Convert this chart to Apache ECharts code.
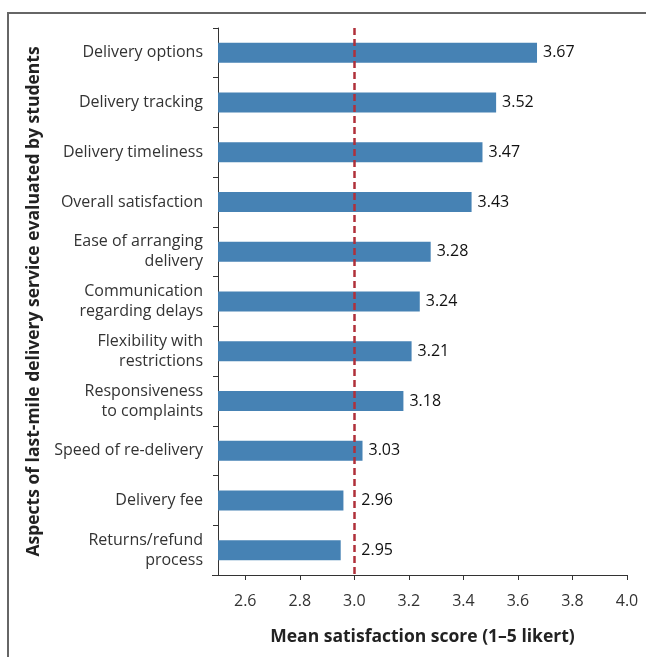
<!DOCTYPE html>
<html>
<head>
<meta charset="utf-8">
<script src="https://cdn.jsdelivr.net/npm/echarts@6/dist/echarts.min.js"></script>
<style>
  html, body { margin: 0; padding: 0; background: #fff; }
  #chart { width: 646px; height: 657px; }
</style>
</head>
<body>
<div id="chart"></div>
<script>
// Aspects of last-mile delivery, listed top to bottom
const aspects = [
  'Delivery options',
  'Delivery tracking',
  'Delivery timeliness',
  'Overall satisfaction',
  'Ease of arranging\ndelivery',
  'Communication\nregarding delays',
  'Flexibility with\nrestrictions',
  'Responsiveness\nto complaints',
  'Speed of re-delivery',
  'Delivery fee',
  'Returns/refund\nprocess'
];
// Mean satisfaction score per aspect
const meanScores = [3.67, 3.52, 3.47, 3.43, 3.28, 3.24, 3.21, 3.18, 3.03, 2.96, 2.95];
// Scale-midpoint reference
const neutralScore = 3.0;
// Labelled ticks on the score axis
const scoreTicks = [2.6, 2.8, 3.0, 3.2, 3.4, 3.6, 3.8, 4.0];

const axisMin = 2.5, axisMax = 4.0;
const gridLeft = 218, gridRight = 19;
const font = '"Open Sans", "Liberation Sans", sans-serif';
const chart = echarts.init(document.getElementById('chart'));

// Pixels per score unit on the x axis, used to push labels of short bars past the reference line
const plotWidth = 646 - gridLeft - gridRight;
const pxPerUnit = plotWidth / (axisMax - axisMin);
const barData = meanScores.map(v => {
  if (v >= neutralScore) return v;
  return { value: v, label: { offset: [(neutralScore - v) * pxPerUnit + 1, 0] } };
});

chart.setOption({
  animation: false,
  backgroundColor: '#fff',
  textStyle: { fontFamily: font },
  graphic: [
    { type: 'line', shape: { x1: 8, y1: 13, x2: 8, y2: 657 }, style: { stroke: '#666', lineWidth: 2 } },
    { type: 'line', shape: { x1: 7, y1: 13, x2: 646, y2: 13 }, style: { stroke: '#666', lineWidth: 2 } },
    { type: 'line', shape: { x1: 212, y1: 575.5, x2: 218, y2: 575.5 }, style: { stroke: '#333', lineWidth: 1 } }
  ],
  grid: { left: gridLeft, right: gridRight, top: 28, bottom: 82, containLabel: false },
  xAxis: {
    type: 'value',
    min: axisMin,
    max: axisMax,
    name: 'Mean satisfaction score (1\u20135 likert)',
    nameLocation: 'middle',
    nameGap: 53,
    nameTextStyle: { fontFamily: font, fontSize: 17.5, fontWeight: 'bold', color: '#222' },
    splitLine: { show: false },
    axisLine: { show: true, lineStyle: { color: '#333', width: 1 } },
    axisTick: { show: true, length: 5, customValues: scoreTicks, lineStyle: { color: '#333' } },
    axisLabel: {
      customValues: scoreTicks,
      margin: 18,
      fontSize: 16,
      color: '#333',
      fontFamily: font,
      formatter: v => v.toFixed(1)
    }
  },
  yAxis: {
    type: 'category',
    data: aspects,
    inverse: true,
    name: 'Aspects of last-mile delivery service evaluated by students',
    nameLocation: 'middle',
    nameGap: 174,
    nameRotate: 90,
    nameTextStyle: { fontFamily: font, fontSize: 17.5, fontWeight: 'bold', color: '#222' },
    axisLine: { show: true, lineStyle: { color: '#333', width: 1 } },
    axisTick: { show: true, length: 5, alignWithLabel: false, lineStyle: { color: '#333' } },
    axisLabel: {
      margin: 15,
      fontSize: 16,
      lineHeight: 20,
      color: '#333',
      fontFamily: font,
      align: 'right'
    }
  },
  series: [{
    type: 'bar',
    data: barData,
    barWidth: 20,
    itemStyle: { color: '#4682b4' },
    label: {
      show: true,
      position: 'right',
      distance: 6,
      fontSize: 16,
      color: '#111',
      fontFamily: font,
      formatter: p => p.value.toFixed(2)
    },
    markLine: {
      silent: true,
      symbol: 'none',
      label: { show: false },
      lineStyle: { color: '#b0303a', type: [7, 4], width: 2.5 },
      data: [{ xAxis: neutralScore }]
    }
  }]
});
</script>
</body>
</html>
